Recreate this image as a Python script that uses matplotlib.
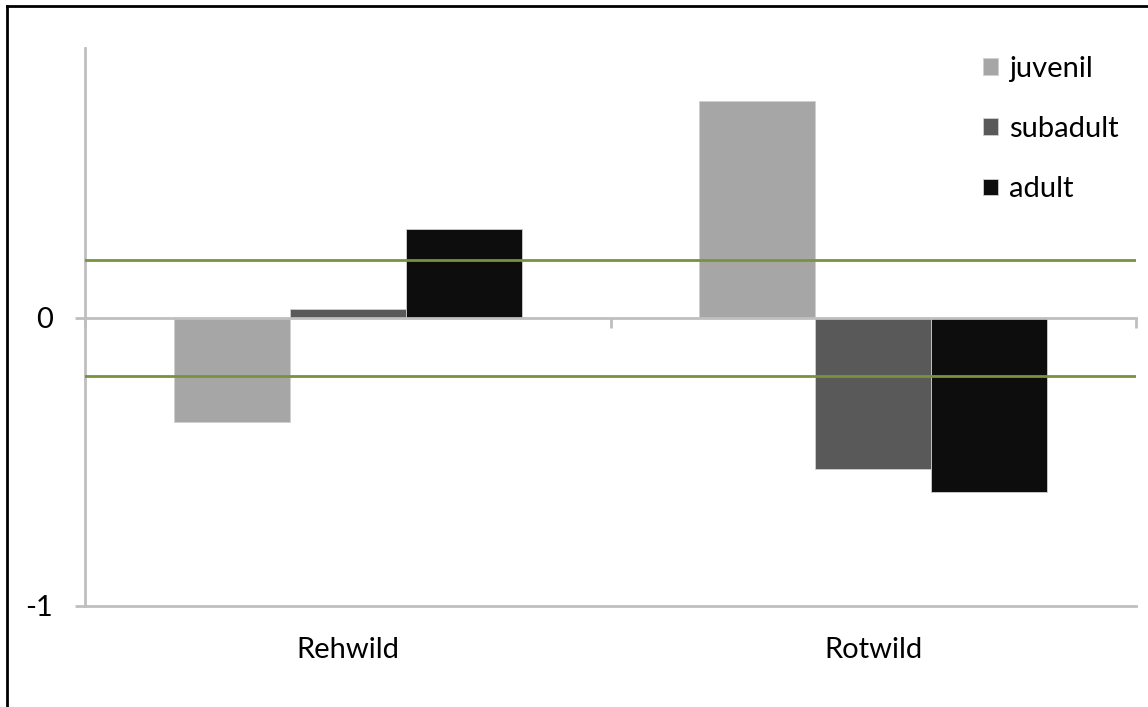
import numpy as np
import matplotlib.pyplot as plt
from matplotlib.lines import Line2D
from matplotlib.transforms import blended_transform_factory

# Werte je Wildart und Altersklasse
kategorien = ['Rehwild', 'Rotwild']
klassen = ['juvenil', 'subadult', 'adult']
juvenil = [-0.36, 0.755]
subadult = [0.03, -0.524]
adult = [0.31, -0.604]
grenzen = [0.2, -0.2]

farben = ['#a6a6a6', '#595959', '#0d0d0d']
grau = '#bfbfbf'

plt.rcParams['font.family'] = ['Lato', 'DejaVu Sans']

fig = plt.figure(figsize=(11.48, 7.07), dpi=100)
ax = fig.add_axes([85 / 1148, 1 - 606 / 707, (1136 - 85) / 1148, (606 - 48) / 707])

x = np.arange(len(kategorien))
breite = 0.221
for i, (werte, name) in enumerate(zip([juvenil, subadult, adult], klassen)):
    ax.bar(x + (i - 1) * breite, werte, breite, color=farben[i],
           edgecolor='#d0d0d0', linewidth=0.6, label=name, zorder=2)

# Grenzlinien
for g in grenzen:
    ax.axhline(g, color='#77933c', lw=2, zorder=3)

ax.set_xlim(-0.5, 1.5)
ax.set_ylim(-1, 0.9375)

# Achsen im Excel-Stil
for s in ['top', 'right']:
    ax.spines[s].set_visible(False)
ax.spines['left'].set_color(grau)
ax.spines['left'].set_linewidth(2)
ax.spines['bottom'].set_position(('data', 0))
ax.spines['bottom'].set_color(grau)
ax.spines['bottom'].set_linewidth(2)
ax.set_xticks([-0.5, 0.5, 1.5])
ax.set_xticklabels([])
ax.tick_params(axis='x', direction='out', length=7, width=2, color=grau)
ax.set_yticks([-1, 0])
ax.set_yticklabels(['-1', '0'])
ax.tick_params(axis='y', direction='out', length=7, width=2, color=grau,
               labelsize=21, pad=16)
ax.axhline(-1, color=grau, lw=2, zorder=1, clip_on=False)

trans = blended_transform_factory(ax.transData, ax.transAxes)
for xi, name in zip(x, kategorien):
    ax.text(xi, -0.079, name, transform=trans, ha='center', va='center', fontsize=21)

ax.legend(loc='upper left', bbox_to_anchor=(983 / 1148, 1 - 56 / 707),
          bbox_transform=fig.transFigure, frameon=False, fontsize=21,
          borderaxespad=0, borderpad=0,
          handlelength=0.5, handleheight=0.5, handletextpad=0.4,
          labelspacing=1.17)

# Rahmen links und oben
fig.add_artist(Line2D([7 / 1148, 7 / 1148], [0, 1 - 6 / 707], color='black', lw=2))
fig.add_artist(Line2D([7 / 1148, 1], [1 - 6 / 707, 1 - 6 / 707], color='black', lw=2))

fig.savefig('out.png', dpi=100)
